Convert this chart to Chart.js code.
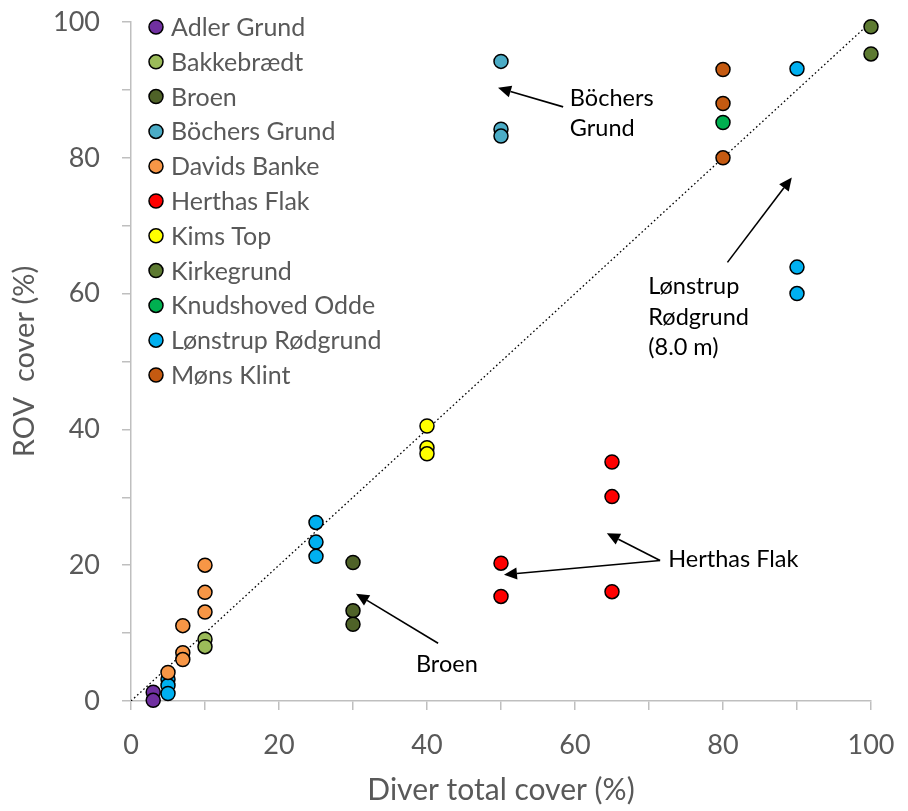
<!DOCTYPE html>
<html>
<head>
<meta charset="utf-8">
<script src="https://cdn.jsdelivr.net/npm/chart.js@4"></script>
<style>
  body { margin: 0; background: #fff; }
</style>
</head>
<body>
<canvas id="coverChart" width="908" height="811"></canvas>
<script>
// sites, in legend order
const siteNames = ["Adler Grund", "Bakkebrædt", "Broen", "Böchers Grund", "Davids Banke", "Herthas Flak",
    "Kims Top", "Kirkegrund", "Knudshoved Odde", "Lønstrup Rødgrund", "Møns Klint"];

// diver total cover (%) per site
const diverCover = [
    [3, 3],
    [10, 10],
    [30, 30, 30],
    [50, 50, 50],
    [5, 7, 7, 7, 10, 10, 10],
    [50, 50, 65, 65, 65],
    [40, 40, 40],
    [100, 100],
    [80],
    [5, 5, 5, 25, 25, 25, 90, 90, 90],
    [80, 80, 80],
];

// ROV cover (%) per site
const rovCover = [
    [1.3, 0.1],
    [9.1, 8.0],
    [20.4, 13.3, 11.3],
    [94.2, 84.2, 83.2],
    [4.2, 11.1, 7.1, 6.1, 20.0, 16.0, 13.1],
    [20.3, 15.4, 35.2, 30.1, 16.1],
    [40.5, 37.3, 36.4],
    [99.3, 95.3],
    [85.2],
    [3.2, 2.3, 1.1, 26.3, 23.4, 21.3, 93.1, 63.9, 60.0],
    [93.0, 88.0, 80.0],
];

const siteColors = ["#7030A0", "#9BBB59", "#4F6228", "#4BACC6", "#F79646", "#FF0000",
    "#FFFF00", "#5D7A31", "#00B050", "#00B0F0", "#C55A11"];

// 1:1 line
const oneToOne = [0, 100];

// text labels and arrows (data coords)
const noteTexts = [
    { lines: ["Böchers", "Grund"], x: 59.3, y: 88.8 },
    { lines: ["Lønstrup", "Rødgrund", "(8.0 m)"], x: 69.9, y: 61.0 },
    { lines: ["Herthas Flak"], x: 72.6, y: 20.9 },
    { lines: ["Broen"], x: 38.5, y: 5.4 },
];
const arrowFrom = [[58.4, 87.5], [80.6, 64.6], [71.5, 20.7], [71.5, 20.7], [41.5, 8.5]];
const arrowTo = [[49.6, 90.3], [89.3, 77.1], [64.3, 24.7], [50.4, 18.6], [30.4, 15.8]];

const grey = "#595959";
const axisGrey = "#BFBFBF";
const fontName = "Lato";

const datasets = siteNames.map((name, i) => ({
    label: name,
    data: diverCover[i].map((x, j) => ({ x: x, y: rovCover[i][j] })),
    backgroundColor: siteColors[i],
    borderColor: "#000",
    borderWidth: 1.5,
    pointRadius: 7,
    pointHoverRadius: 7,
    clip: false,
    order: 1,
}));

datasets.push({
    label: "1:1",
    data: oneToOne.map((v) => ({ x: v, y: v })),
    showLine: true,
    borderColor: "#000",
    borderWidth: 1.3,
    borderDash: [1.6, 2.6],
    pointRadius: 0,
    order: 100,
});

// legend drawn inside the plot, top left
const insideLegend = {
    id: "insideLegend",
    afterDraw(chart) {
        const { ctx, chartArea } = chart;
        ctx.save();
        ctx.font = "25px " + fontName;
        ctx.textBaseline = "middle";
        ctx.textAlign = "left";
        siteNames.forEach((name, i) => {
            const cy = chartArea.top + 5 + i * 34.8;
            const cx = chartArea.left + 25;
            ctx.beginPath();
            ctx.arc(cx, cy, 7, 0, Math.PI * 2);
            ctx.fillStyle = siteColors[i];
            ctx.fill();
            ctx.lineWidth = 1.5;
            ctx.strokeStyle = "#000";
            ctx.stroke();
            ctx.fillStyle = grey;
            ctx.fillText(name, cx + 15, cy + 1);
        });
        ctx.restore();
    },
};

// arrows and notes
const notes = {
    id: "notes",
    afterDatasetsDraw(chart) {
        const { ctx } = chart;
        const xs = chart.scales.x, ys = chart.scales.y;
        ctx.save();
        ctx.strokeStyle = "#000";
        ctx.fillStyle = "#000";
        ctx.lineWidth = 1.6;
        arrowFrom.forEach((f, i) => {
            const x1 = xs.getPixelForValue(f[0]), y1 = ys.getPixelForValue(f[1]);
            const x2 = xs.getPixelForValue(arrowTo[i][0]), y2 = ys.getPixelForValue(arrowTo[i][1]);
            const a = Math.atan2(y2 - y1, x2 - x1);
            const len = 13, half = 6;
            const bx = x2 - len * Math.cos(a), by = y2 - len * Math.sin(a);
            ctx.beginPath();
            ctx.moveTo(x1, y1);
            ctx.lineTo(bx, by);
            ctx.stroke();
            ctx.beginPath();
            ctx.moveTo(x2, y2);
            ctx.lineTo(bx + half * Math.sin(a), by - half * Math.cos(a));
            ctx.lineTo(bx - half * Math.sin(a), by + half * Math.cos(a));
            ctx.closePath();
            ctx.fill();
        });
        ctx.font = "23.5px " + fontName;
        ctx.textBaseline = "middle";
        ctx.textAlign = "left";
        noteTexts.forEach((n) => {
            const x = xs.getPixelForValue(n.x), y = ys.getPixelForValue(n.y);
            n.lines.forEach((line, k) => ctx.fillText(line, x, y + k * 30.5));
        });
        ctx.restore();
    },
};

const ctx = document.getElementById("coverChart").getContext("2d");
const coverChart = new Chart(ctx, {
    type: "scatter",
    data: { datasets: datasets },
    options: {
        responsive: false,
        animation: false,
        layout: { padding: { top: 22, right: 37, left: 0, bottom: 0 } },
        plugins: {
            legend: { display: false },
            tooltip: { enabled: false },
        },
        scales: {
            x: {
                min: 0,
                max: 100,
                afterFit: (scale) => {
                    scale.height = 110;
                    scale.paddingLeft = 0;
                    scale.paddingRight = 0;
                },
                border: { color: axisGrey, width: 1.5 },
                grid: { drawOnChartArea: false, color: axisGrey, lineWidth: 1.5, tickLength: 9 },
                ticks: {
                    stepSize: 10,
                    autoSkip: false,
                    maxRotation: 0,
                    padding: 19,
                    color: grey,
                    font: { family: fontName, size: 27 },
                    callback: (v) => (v % 20 === 0 ? v : ""),
                },
                title: {
                    display: true,
                    text: "Diver total cover (%)",
                    color: grey,
                    font: { family: fontName, size: 30 },
                    padding: { bottom: 3 },
                },
            },
            y: {
                min: 0,
                max: 100,
                afterFit: (scale) => {
                    scale.width = 131;
                    scale.paddingTop = 0;
                    scale.paddingBottom = 0;
                },
                border: { color: axisGrey, width: 1.5 },
                grid: { drawOnChartArea: false, color: axisGrey, lineWidth: 1.5, tickLength: 9 },
                ticks: {
                    stepSize: 10,
                    autoSkip: false,
                    padding: 22,
                    color: grey,
                    font: { family: fontName, size: 27 },
                    callback: (v) => (v % 20 === 0 ? v : ""),
                },
                title: {
                    display: true,
                    text: "ROV  cover (%)",
                    color: grey,
                    font: { family: fontName, size: 29 },
                    padding: { top: 7 },
                },
            },
        },
    },
    plugins: [insideLegend, notes],
});
</script>
</body>
</html>
